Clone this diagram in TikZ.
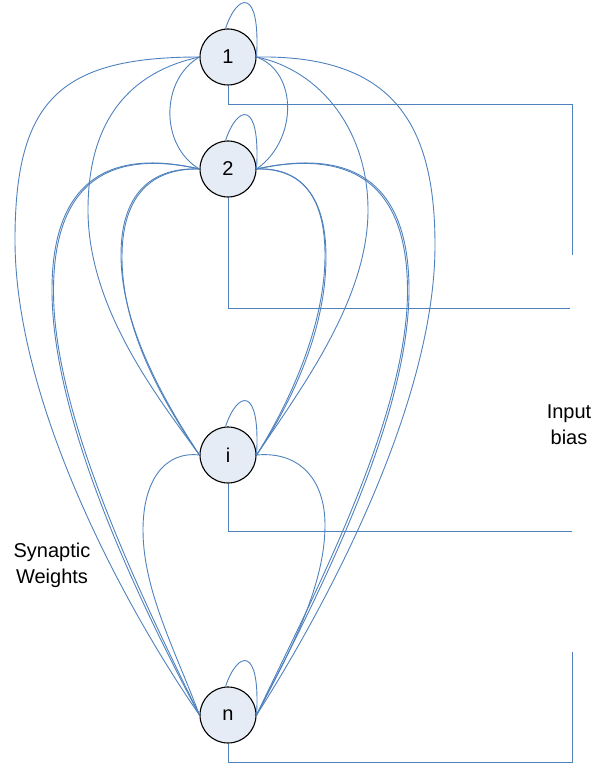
\documentclass[tikz,border=0pt]{standalone}
\usepackage{fontspec}
\setmainfont{Liberation Sans}
\definecolor{wire}{HTML}{4F81BD}
\definecolor{cellfill}{HTML}{E6ECF6}
\begin{document}
\begin{tikzpicture}[x=1pt,y=-1pt,
  neuron/.style={circle,draw=black,line width=1.1pt,fill=cellfill,
    minimum size=56pt,inner sep=0pt,font=\fontsize{20}{24}\selectfont},
  syn/.style={draw=wire,line width=0.9pt},
  caption/.style={align=center,font=\fontsize{20}{26}\selectfont,inner sep=0pt}]
\useasboundingbox (0,0) rectangle (598,765);

% neurons
\node[neuron] (n1) at (228,57) {};
\node[neuron] (n2) at (228,169) {};
\node[neuron] (ni) at (228,455) {};
\node[neuron] (nn) at (228,715) {};

% synaptic weights, left side
\draw[syn] (n1.west) .. controls (60,57) and (15,100) .. (15,240)
  .. controls (15,400) and (120,600) .. (nn.west);
\draw[syn] (n2.west) .. controls (110,148) and (52,180) .. (52,290)
  .. controls (52,420) and (138,600) .. (nn.west);
\draw[syn] (n2.west) .. controls (110.5,149) and (53.5,181) .. (53.5,291)
  .. controls (53.5,420) and (146,606) .. (nn.west);
\draw[syn] (n1.west) .. controls (130,72) and (88,120) .. (88,210)
  .. controls (88,310) and (160,400) .. (ni.west);
\draw[syn] (n2.west) .. controls (150,167) and (121,195) .. (121,255)
  .. controls (121,330) and (170,410) .. (ni.west);
\draw[syn] (n2.west) .. controls (151,168) and (122,196) .. (122,257)
  .. controls (122,332) and (165,405) .. (ni.west);
\draw[syn] (n1.west) .. controls (160,80) and (160,146) .. (n2.west);
\draw[syn] (ni.west) .. controls (165,451) and (143,480) .. (143,530)
  .. controls (143,590) and (175,650) .. (nn.west);

% synaptic weights, right side
\draw[syn] (n1.east) .. controls (390,55) and (435,120) .. (435,245)
  .. controls (435,400) and (330,600) .. (nn.east);
\draw[syn] (n2.east) .. controls (350,148) and (409,180) .. (409,290)
  .. controls (409,420) and (316,600) .. (nn.east);
\draw[syn] (n2.east) .. controls (349,149) and (407.5,181) .. (407.5,291)
  .. controls (407.5,420) and (308,606) .. (nn.east);
\draw[syn] (n1.east) .. controls (320,70) and (368,130) .. (368,210)
  .. controls (368,300) and (300,390) .. (ni.east);
\draw[syn] (n2.east) .. controls (300,167) and (325,195) .. (325,255)
  .. controls (325,330) and (285,410) .. (ni.east);
\draw[syn] (n2.east) .. controls (301,168) and (326,196) .. (326,257)
  .. controls (326,332) and (290,405) .. (ni.east);
\draw[syn] (n1.east) .. controls (298,72) and (298,140) .. (n2.east);
\draw[syn] (ni.east) .. controls (300,451) and (325,480) .. (325,525)
  .. controls (325,590) and (285,660) .. (nn.east);

% self connections
\foreach \v in {n1,n2,ni,nn}
  \draw[syn] (\v.95) .. controls +(12,-36) and +(4,-70) .. (\v.east);

% input bias lines
\coordinate (b1) at (572,255);
\coordinate (b2) at (570,308);
\coordinate (bi) at (572,531);
\coordinate (bn) at (572,652);
\draw[syn] (n1.south) -- (228,104) -- (572,104) -- (b1);
\draw[syn] (n2.south) -- (228,308) -- (b2);
\draw[syn] (ni.south) -- (228,531) -- (bi);
\draw[syn] (nn.south) -- (228,762) -- (572,762) -- (bn);

% labels
\node at (n1) {\fontsize{20}{24}\selectfont 1};
\node at (n2) {\fontsize{20}{24}\selectfont 2};
\node at (ni) {\fontsize{20}{24}\selectfont i};
\node at (nn) {\fontsize{20}{24}\selectfont n};
\node[caption] (bias) at (569,425) {Input\\bias};
\node[caption] (weights) at (52,565) {Synaptic\\Weights};
\end{tikzpicture}
\end{document}
